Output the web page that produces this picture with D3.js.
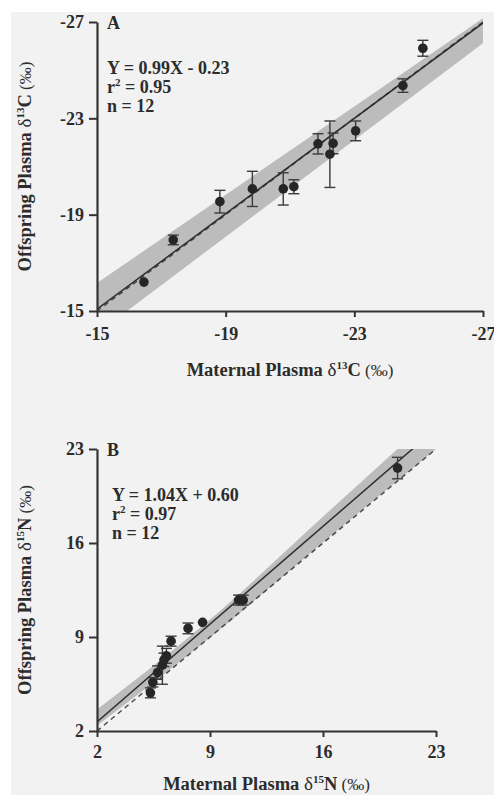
<!DOCTYPE html>
<html>
<head>
<meta charset="utf-8">
<script src="https://cdn.jsdelivr.net/npm/d3@7"></script>
<style>
  body { margin: 0; background: #fff; }
  svg { display: block; }
  text { font-family: "Liberation Serif", "Times New Roman", serif; fill: #2c2c2c; }
</style>
</head>
<body>
<svg id="chart" width="494" height="795"></svg>
<script>
// ---- panel A : carbon ----
var matC = [-16.46, -17.37, -18.82, -19.83, -20.79, -21.12, -21.87, -22.34, -22.24, -23.04, -24.51, -25.13];
var offC = [-16.20, -17.95, -19.54, -20.07, -20.07, -20.16, -21.94, -21.96, -21.51, -22.48, -24.36, -25.91];
var errC = [0, 0.20, 0.47, 0.73, 0.67, 0.29, 0.42, 0.43, 1.38, 0.41, 0.28, 0.33];
var ticksC = [-15, -19, -23, -27];
var fitC = [0.99, -0.23];          // slope, intercept
var bandCX = [-15, -27];
var bandCHi = [-16.16, -27.16];
var bandCLo = [-14.06, -26.12];

// ---- panel B : nitrogen ----
var matN = [5.31, 5.46, 5.75, 6.05, 6.15, 6.30, 6.59, 7.64, 8.54, 10.77, 11.06, 20.62];
var offN = [4.84, 5.63, 6.35, 6.90, 7.30, 7.60, 8.69, 9.64, 10.09, 11.75, 11.75, 21.58];
var errN = [0.37, 0.35, 0.50, 1.42, 0.50, 0.55, 0.37, 0.40, 0, 0.37, 0.37, 0.80];
var ticksN = [2, 9, 16, 23];
var fitN = [1.04, 0.60];
var bandNX = [2, 9, 16.4, 23];
var bandNHi = [3.6, 10.3, 18.4, 25.6];
var bandNLo = [2.4, 8.95, 16.45, 23.0];

var svg = d3.select("#chart");

// scanned page background
svg.append("rect").attr("x", 11).attr("y", 12).attr("width", 494 - 11).attr("height", 795 - 12)
  .attr("fill", "#f2f2f2");

function panel(p) {
  var x = d3.scaleLinear().domain([p.ticks[0], p.ticks[3]]).range([p.left, p.right]);
  var y = d3.scaleLinear().domain([p.ticks[0], p.ticks[3]]).range([p.bottom, p.top]);
  var g = svg.append("g");

  g.append("clipPath").attr("id", "clip" + p.id)
    .append("rect")
    .attr("x", p.left).attr("y", p.top - p.clipTop)
    .attr("width", p.right - p.left).attr("height", p.bottom - p.top + p.clipTop);

  var plot = g.append("g").attr("clip-path", "url(#clip" + p.id + ")");

  // gray band
  var band = p.bandX.map(function(v, i) { return {x: v, hi: p.bandHi[i], lo: p.bandLo[i]}; });
  plot.append("path")
    .datum(band)
    .attr("fill", "#bcbcbc")
    .attr("d", d3.area()
      .x(function(d) { return x(d.x); })
      .y0(function(d) { return y(d.lo); })
      .y1(function(d) { return y(d.hi); })
      .curve(d3.curveMonotoneX));

  var ends = x.domain();
  // 1:1 line
  plot.append("path")
    .datum(ends)
    .attr("fill", "none").attr("stroke", "#4a4a4a").attr("stroke-width", 1.5)
    .attr("stroke-dasharray", "5,4")
    .attr("d", d3.line().x(function(d) { return x(d); }).y(function(d) { return y(d); }));
  // regression line
  plot.append("path")
    .datum(ends)
    .attr("fill", "none").attr("stroke", "#2e2e2e").attr("stroke-width", 1.5)
    .attr("d", d3.line().x(function(d) { return x(d); })
      .y(function(d) { return y(p.fit[0] * d + p.fit[1]); }));

  // error bars
  var pts = p.xs.map(function(v, i) { return {x: v, y: p.ys[i], e: p.err[i]}; });
  var eb = g.selectAll(".eb").data(pts.filter(function(d) { return d.e > 0; }))
    .enter().append("g").attr("stroke", "#3a3a3a").attr("stroke-width", 1.4);
  eb.append("line")
    .attr("x1", function(d) { return x(d.x); }).attr("x2", function(d) { return x(d.x); })
    .attr("y1", function(d) { return y(d.y - d.e); }).attr("y2", function(d) { return y(d.y + d.e); });
  [-1, 1].forEach(function(s) {
    eb.append("line")
      .attr("x1", function(d) { return x(d.x) - 5.5; }).attr("x2", function(d) { return x(d.x) + 5.5; })
      .attr("y1", function(d) { return y(d.y + s * d.e); }).attr("y2", function(d) { return y(d.y + s * d.e); });
  });

  g.selectAll("circle").data(pts).enter().append("circle")
    .attr("cx", function(d) { return x(d.x); })
    .attr("cy", function(d) { return y(d.y); })
    .attr("r", 4.8)
    .attr("fill", "#262626");

  // axes (plain hyphen for negatives, as printed)
  var fmt = function(d) { return String(d); };
  var xa = g.append("g").attr("transform", "translate(0," + p.bottom + ")")
    .call(d3.axisBottom(x).tickValues(p.ticks).tickSize(6).tickSizeOuter(0).tickPadding(p.xPad)
      .tickFormat(fmt));
  var ya = g.append("g").attr("transform", "translate(" + p.left + ",0)")
    .call(d3.axisLeft(y).tickValues(p.ticks).tickSize(8).tickSizeOuter(0).tickPadding(5)
      .tickFormat(fmt));
  [xa, ya].forEach(function(a) {
    a.attr("font-family", null);
    a.select(".domain").attr("stroke", "#333").attr("stroke-width", 2.2);
    a.selectAll(".tick line").attr("stroke", "#333").attr("stroke-width", 2);
    a.selectAll(".tick text")
      .attr("fill", "#2c2c2c")
      .style("font-size", "18px").style("font-weight", "bold");
  });

  // panel letter + stats
  g.append("text").attr("x", p.left + 10).attr("y", p.top + 7)
    .style("font-size", "18px").style("font-weight", "bold").text(p.id);
  var tx = p.left + p.textDx;
  g.append("text").attr("x", tx).attr("y", p.statY)
    .style("font-size", "18px").style("font-weight", "bold").text(p.eq);
  var r2 = g.append("text").attr("x", tx).attr("y", p.statY + 19)
    .style("font-size", "18px").style("font-weight", "bold");
  r2.append("tspan").text("r");
  r2.append("tspan").attr("dy", -7).style("font-size", "11px").text("2");
  r2.append("tspan").attr("dy", 7).text(" = " + p.r2);
  g.append("text").attr("x", tx).attr("y", p.statY + 38)
    .style("font-size", "18px").style("font-weight", "bold").text("n = " + p.n);

  // axis titles
  function title(sel, who) {
    sel.style("font-size", "18.5px").style("font-weight", "bold");
    sel.append("tspan").text(who + " Plasma ");
    sel.append("tspan").style("font-weight", "normal").style("font-size", "19px").text("\u03b4");
    sel.append("tspan").attr("dy", -7).style("font-size", "11px").text(p.iso);
    sel.append("tspan").attr("dy", 7).text(p.el);
    sel.append("tspan").style("font-weight", "normal").style("font-size", "17px").text(" (\u2030)");
  }
  title(g.append("text").attr("text-anchor", "middle")
    .attr("x", (p.left + p.right) / 2).attr("y", p.xTitleY), "Maternal");
  title(g.append("text").attr("text-anchor", "middle")
    .attr("transform", "translate(31," + (p.top + p.bottom) / 2 + ") rotate(-90)"), "Offspring");
}

panel({id: "A", xs: matC, ys: offC, err: errC, ticks: ticksC, fit: fitC,
  bandX: bandCX, bandHi: bandCHi, bandLo: bandCLo,
  left: 97, right: 483, top: 22, bottom: 311, clipTop: 5, xPad: 10,
  textDx: 10, statY: 74, xTitleY: 376,
  eq: "Y = 0.99X - 0.23", r2: "0.95", n: 12, iso: "13", el: "C"});

panel({id: "B", xs: matN, ys: offN, err: errN, ticks: ticksN, fit: fitN,
  bandX: bandNX, bandHi: bandNHi, bandLo: bandNLo,
  left: 97, right: 436, top: 449, bottom: 731, clipTop: 0, xPad: 8,
  textDx: 15, statY: 501, xTitleY: 790,
  eq: "Y = 1.04X + 0.60", r2: "0.97", n: 12, iso: "15", el: "N"});
</script>
</body>
</html>
